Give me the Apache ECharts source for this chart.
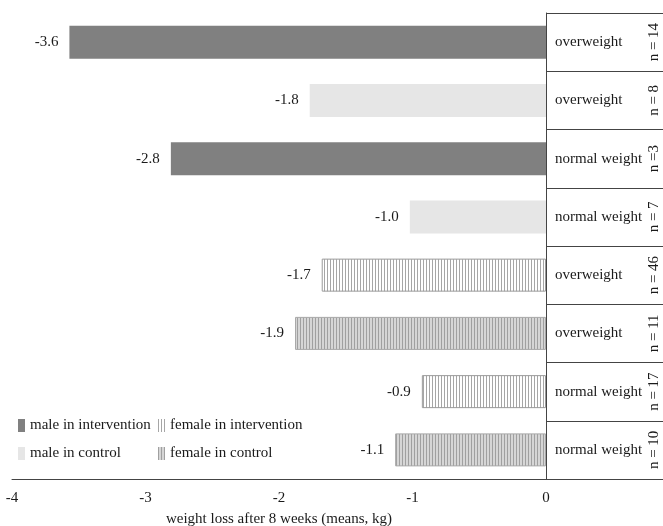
<!DOCTYPE html>
<html>
<head>
<meta charset="utf-8">
<script src="https://cdn.jsdelivr.net/npm/echarts@6/dist/echarts.min.js"></script>
<style>html,body{margin:0;padding:0;background:#fff;overflow:hidden}#c{width:663px;height:526px}</style>
</head>
<body>
<div id="c"></div>
<script>
// ---- data ----
var weightStatus = ['overweight','overweight','normal weight','normal weight','overweight','overweight','normal weight','normal weight'];
var nLabels = ['n = 14','n = 8','n =3','n = 7','n = 46','n = 11','n = 17','n = 10'];
var groups = ['male in intervention','male in control','male in intervention','male in control','female in intervention','female in control','female in intervention','female in control'];
var values = [-3.57,-1.77,-2.81,-1.02,-1.68,-1.88,-0.93,-1.13];
var seriesNames = ['male in intervention','male in control','female in intervention','female in control'];
var xTicks = [-4,-3,-2,-1,0];

var FONT = '"Liberation Serif","DejaVu Serif",serif';
function stripe(bg, line){
  var c = document.createElement('canvas'); c.width = 3; c.height = 4;
  var g = c.getContext('2d');
  g.fillStyle = bg; g.fillRect(0,0,3,4);
  g.fillStyle = line; g.fillRect(0,0,1,4);
  return {image: c, repeat: 'repeat'};
}
var styles = {
  'male in intervention': {color:'#808080'},
  'male in control': {color:'#e6e6e6'},
  'female in intervention': {color: stripe('#ffffff','#a6a6a6'), borderColor:'#9a9a9a', borderWidth:1},
  'female in control': {color: stripe('#d6d6d6','#a0a0a0'), borderColor:'#a8a8a8', borderWidth:1}
};
var rowIdx = weightStatus.map(function(_,i){return i;});
var series = seriesNames.map(function(name){
  return {
    name: name, type:'bar', stack:'all', xAxisIndex:0, yAxisIndex:0,
    barWidth: 33,
    itemStyle: styles[name],
    label: {show:true, position:'left', distance:11, fontFamily:FONT, fontSize:15, color:'#1a1a1a',
      formatter: function(p){ return p.value == null ? '' : p.value.toFixed(1); }},
    data: values.map(function(v,i){ return groups[i] === name ? v : null; })
  };
});

var chart = echarts.init(document.getElementById('c'));
chart.setOption({
  animation:false,
  textStyle:{fontFamily:FONT},
  grid:[
    {left:12, width:534, top:13, bottom:47, outerBoundsMode:'none', containLabel:false},
    {left:546, right:-20, top:13, bottom:47, outerBoundsMode:'none', containLabel:false, show:false}
  ],
  xAxis:[
    {gridIndex:0, type:'value', min:xTicks[0], max:xTicks[xTicks.length-1], interval:1,
     axisLine:{show:true, lineStyle:{color:'#444'}}, axisTick:{show:false}, splitLine:{show:false},
     axisLabel:{fontFamily:FONT, fontSize:15, color:'#1a1a1a', margin:12},
     name:'weight loss after 8 weeks (means, kg)', nameLocation:'middle', nameGap:33,
     nameTextStyle:{fontFamily:FONT, fontSize:15, color:'#1a1a1a'}},
    {gridIndex:1, type:'value', min:0, max:1, show:true,
     axisLine:{show:true, lineStyle:{color:'#444'}}, axisTick:{show:false}, axisLabel:{show:false}, splitLine:{show:false}}
  ],
  yAxis:[
    {gridIndex:0, type:'category', inverse:true, data:rowIdx, show:false},
    {gridIndex:1, type:'category', inverse:true, data:weightStatus, position:'left',
     axisLine:{show:true, lineStyle:{color:'#444'}}, axisTick:{show:false},
     splitLine:{show:true, lineStyle:{color:'#444'}},
     axisLabel:{inside:true, margin:9, fontFamily:FONT, fontSize:15, color:'#1a1a1a'}},
    {gridIndex:1, type:'category', inverse:true, data:nLabels, position:'right',
     axisLine:{show:false}, axisTick:{show:false}, splitLine:{show:false},
     axisLabel:{inside:true, rotate:90, margin:21, fontFamily:FONT, fontSize:15, color:'#1a1a1a'}}
  ],
  legend:[
    {orient:'vertical', left:18, top:418, padding:0, itemWidth:7, itemHeight:13, itemGap:13, icon:'rect',
     textStyle:{fontFamily:FONT, fontSize:15, color:'#1a1a1a'}, itemStyle:{borderWidth:0},
     data:[seriesNames[0], seriesNames[1]]},
    {orient:'vertical', left:158, top:418, padding:0, itemWidth:7, itemHeight:13, itemGap:13, icon:'rect',
     textStyle:{fontFamily:FONT, fontSize:15, color:'#1a1a1a'}, itemStyle:{borderWidth:0},
     data:[seriesNames[2], seriesNames[3]]}
  ],
  series: series
});
</script>
</body>
</html>
